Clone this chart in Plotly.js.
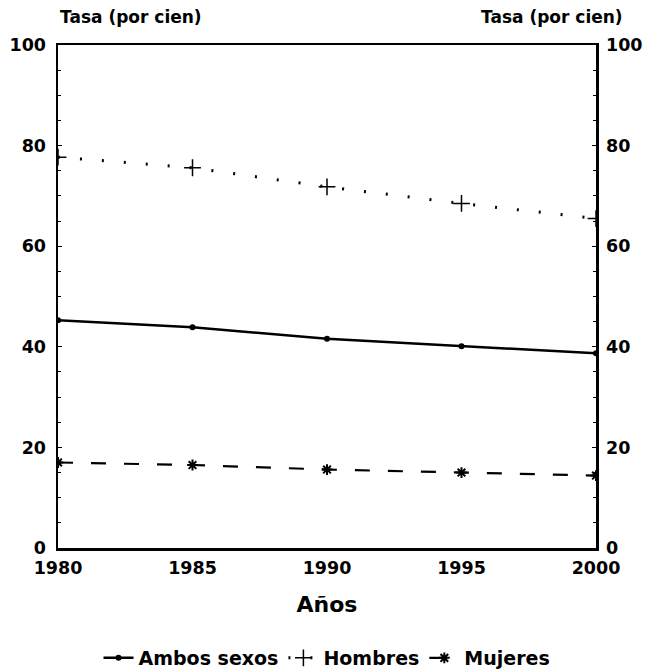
<!DOCTYPE html>
<html><head><meta charset="utf-8">
<script src="https://cdn.plot.ly/plotly-3.0.1.min.js"></script>
<style>body{margin:0;background:#fff}#c{width:657px;height:672px}</style>
</head><body><div id="c"></div>
<script>
const years = [1980, 1985, 1990, 1995, 2000];
const ambos = [45.3, 43.9, 41.6, 40.1, 38.7];
const hombres = [77.7, 75.6, 71.8, 68.5, 65.5];
const mujeres = [17.0, 16.5, 15.6, 15.0, 14.4];
const yTicks = [0, 20, 40, 60, 80, 100];
const fontFam = 'DejaVu Sans, Arial, sans-serif';

const traces = [
  {x: years, y: ambos, name: 'Ambos sexos', mode: 'lines+markers',
   line: {color: '#000', width: 2.5, dash: 'solid'},
   marker: {symbol: 'circle', size: 6, color: '#000'}},
  {x: years, y: hombres, name: 'Hombres', mode: 'lines+markers',
   line: {color: '#000', width: 3, dash: '2px,20px'},
   marker: {symbol: 'cross-thin-open', size: 12, color: '#000', line: {width: 1.5, color: '#000'}}},
  {x: years, y: mujeres, name: 'Mujeres', mode: 'lines+markers',
   line: {color: '#000', width: 2.2, dash: '15px,18px'},
   marker: {symbol: 'asterisk-open', size: 9, color: '#000', line: {width: 2, color: '#000'}}},
  {x: years, y: mujeres, yaxis: 'y2', mode: 'lines', showlegend: false, hoverinfo: 'skip',
   line: {color: 'rgba(0,0,0,0)', width: 0}}
];

const tickFont = {size: 17.5, family: fontFam, weight: 'bold'};
const layout = {
  width: 657, height: 672,
  margin: {l: 58, r: 61, t: 45, b: 124},
  paper_bgcolor: '#fff', plot_bgcolor: '#fff',
  font: {family: fontFam, color: '#000'},
  showlegend: true,
  legend: {orientation: 'h', x: 0.5, xanchor: 'center', yref: 'container', y: (672 - 658) / 672, yanchor: 'middle',
           font: {size: 19, family: fontFam, weight: 'bold'}, itemwidth: 30, tracegroupgap: 0},
  xaxis: {range: [1980, 2000], tickvals: years, ticktext: years.map(String),
          showline: true, linecolor: '#000', linewidth: 2.5, mirror: true, showgrid: false, zeroline: false,
          ticks: '', ticklabelstandoff: 2, tickfont: tickFont,
          title: {text: 'Años', font: {size: 22, family: fontFam, weight: 'bold'}, standoff: 20}},
  yaxis: {range: [0, 100], tickvals: yTicks, ticktext: yTicks.map(String),
          showline: true, linecolor: '#000', linewidth: 2.5, showgrid: false, zeroline: false,
          ticks: 'inside', ticklen: 4, tickcolor: '#000', ticklabelstandoff: 6,
          minor: {dtick: 5, ticks: 'inside', ticklen: 3, tickcolor: '#000'},
          tickfont: tickFont},
  yaxis2: {range: [0, 100], overlaying: 'y', side: 'right', tickvals: yTicks, ticktext: yTicks.map(String),
          showline: true, linecolor: '#000', linewidth: 2.5, showgrid: false, zeroline: false,
          ticks: 'inside', ticklen: 4, tickcolor: '#000', ticklabelstandoff: 4,
          minor: {dtick: 5, ticks: 'inside', ticklen: 3, tickcolor: '#000'},
          tickfont: tickFont},
  annotations: [
    {text: 'Tasa (por cien)', xref: 'paper', yref: 'paper', x: 0, y: (548 - 17) / 503, xanchor: 'left', yanchor: 'middle',
     showarrow: false, font: {size: 17, family: fontFam, weight: 'bold'}},
    {text: 'Tasa (por cien)', xref: 'paper', yref: 'paper', x: (625 - 58) / 538, y: (548 - 17) / 503, xanchor: 'right', yanchor: 'middle',
     showarrow: false, font: {size: 17, family: fontFam, weight: 'bold'}}
  ]
};
Plotly.newPlot('c', traces, layout, {displayModeBar: false, staticPlot: true});
</script></body></html>
